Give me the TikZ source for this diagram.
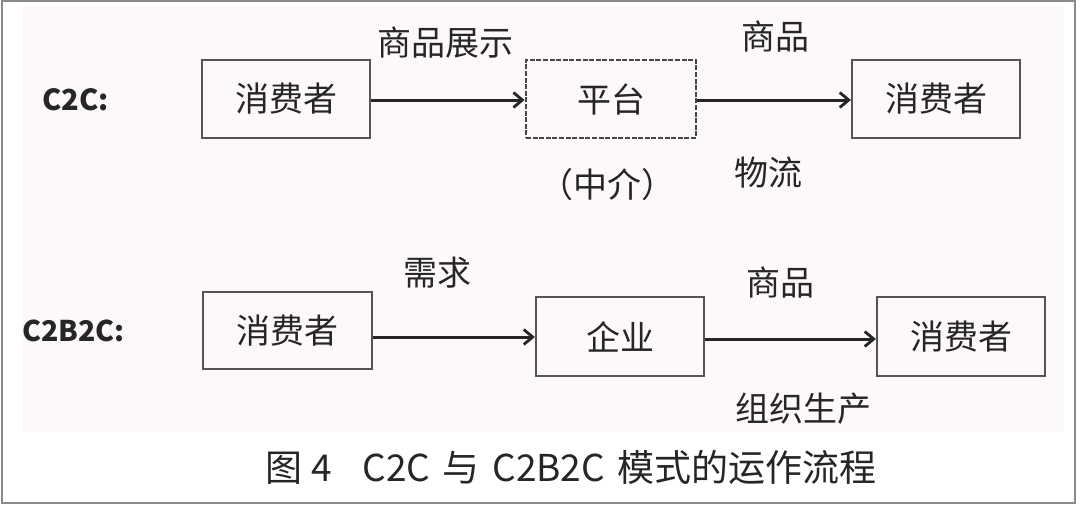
\documentclass[tikz,border=0pt]{standalone}
\usepackage{fontspec}
\setmainfont{Noto Sans CJK SC}
\newfontfamily\cjk{Noto Sans CJK SC}
\usetikzlibrary{arrows.meta}
\definecolor{panel}{HTML}{FCF8FB}
\definecolor{frame}{HTML}{8A8A8A}
\definecolor{ink}{HTML}{262626}
\definecolor{boxline}{HTML}{555555}
\tikzset{
  box/.style={draw=boxline, line width=2.2pt, fill=panel, minimum width=168pt, minimum height=78pt, inner sep=0pt, font=\cjk\fontsize{34}{38}\selectfont, text=ink},
  dbox/.style={box, draw=ink!85, line width=2.8pt, dash pattern=on 5pt off 1.6pt},
  lbl/.style={font=\cjk\fontsize{34}{38}\selectfont, text=ink, inner sep=0pt},
  rowlbl/.style={font=\cjk\bfseries\fontsize{29}{32}\selectfont, text=ink, inner sep=0pt, anchor=west},
  arr/.style={draw=ink, line width=3pt, -{Straight Barb[length=9pt,width=15pt,line width=2.8pt]}}
}
\begin{document}
\begin{tikzpicture}[x=1pt,y=-1pt]
\useasboundingbox (0,0) rectangle (1080,504);
\fill[white] (0,0) rectangle (1080,504);
\fill[panel] (22,6) rectangle (1064,432);
\draw[frame, line width=2pt] (2,1) rectangle (1075,503);
% C2C row
\node[rowlbl] (l1) at (42,100) {C2C:};
\node[box] (a1) at (286,99) {消费者};
\node[dbox, minimum width=170pt] (p1) at (611,99) {平台};
\node[box] (c1) at (936,99) {消费者};
\draw[arr] (a1.east |- 0,100) -- (p1.west |- 0,100);
\draw[arr] (p1.east |- 0,100) -- (c1.west |- 0,100);
\node[lbl] (t1) at (445,43) {商品展示};
\node[lbl] (t2) at (775,37) {商品};
\node[lbl] (t3) at (768,173) {物流};
\node[lbl] (t4) at (607,185) {（中介）};
% C2B2C row
\node[rowlbl, font=\cjk\bfseries\fontsize{28.5}{32}\selectfont] (l2) at (22,331) {C2B2C:};
\node[box, minimum width=169pt, minimum height=77pt] (a2) at (287.5,330.5) {消费者};
\node[box, minimum height=79pt] (e2) at (620,336.5) {企业};
\node[box, minimum height=79pt] (c2) at (961,336.5) {消费者};
\draw[arr] (a2.east |- 0,337) -- (e2.west |- 0,337);
\draw[arr] (e2.east |- 0,339) -- (c2.west |- 0,339);
\node[lbl] (u1) at (437,273) {需求};
\node[lbl] (u2) at (780,283) {商品};
\node[lbl] (u3) at (803,409) {组织生产};
% caption
\node[font=\cjk\fontsize{37}{40}\selectfont, text=ink, inner sep=0pt, anchor=west] (cap) at (265,467) {图\hspace{9pt}4\hspace{31pt}C2C\hspace{12pt}与\hspace{13pt}C2B2C\hspace{12pt}模式的运作流程};
\end{tikzpicture}
\end{document}
